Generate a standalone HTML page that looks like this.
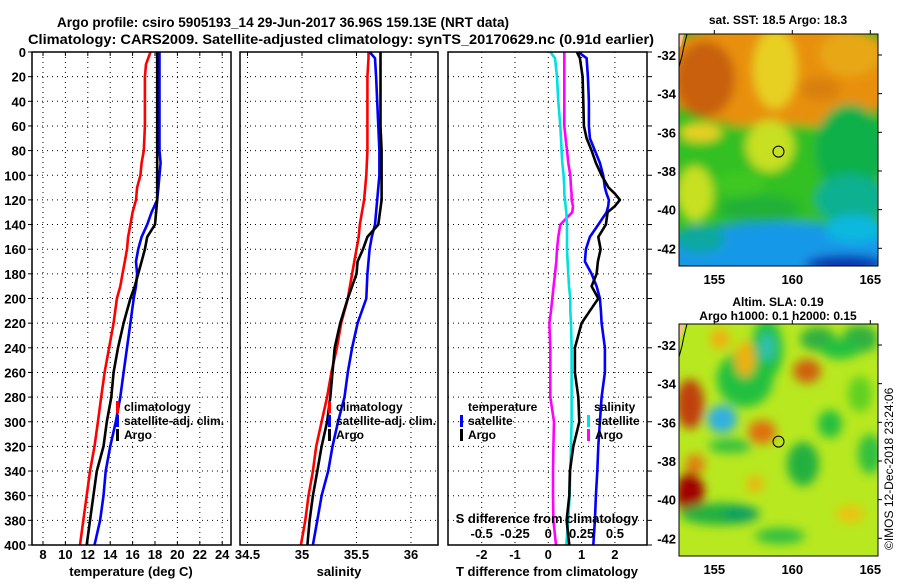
<!DOCTYPE html>
<html><head><meta charset="utf-8"><style>
html,body{margin:0;padding:0;background:#fff;}
svg text{font-family:"Liberation Sans",Arial,sans-serif;font-weight:bold;fill:#000;}
</style></head><body>
<svg id="fig" width="900" height="580" viewBox="0 0 900 580" xmlns="http://www.w3.org/2000/svg">
<defs>
<filter id="blur1" x="-20%" y="-20%" width="140%" height="140%"><feGaussianBlur stdDeviation="5"/></filter>
<clipPath id="clipM1"><rect x="679" y="34" width="199" height="232"/></clipPath>
<clipPath id="clipM2"><rect x="679" y="324" width="199" height="232"/></clipPath>
</defs>
<text x="57" y="27" font-size="14" textLength="452" lengthAdjust="spacingAndGlyphs">Argo profile: csiro 5905193_14 29-Jun-2017 36.96S 159.13E (NRT data)</text>
<text x="28" y="44" font-size="14" textLength="626" lengthAdjust="spacingAndGlyphs">Climatology: CARS2009. Satellite-adjusted climatology: synTS_20170629.nc (0.91d earlier)</text>
<g id="plots"></g>
<g id="maps"></g>
</svg>
<script>
// ---- data ----
const tDepth=[0,10,20,40,60,80,90,100,110,120,130,140,150,160,170,180,190,200,220,240,260,280,300,320,340,360,380,400];
const tClim=[17.6,17.2,17.1,17.1,17.1,17.0,16.8,16.7,16.4,16.3,16.0,15.8,15.6,15.5,15.3,15.1,14.9,14.6,14.3,13.9,13.5,13.2,12.9,12.6,12.2,11.9,11.6,11.3];
const tSat=[18.4,18.4,18.4,18.4,18.4,18.4,18.5,18.4,18.3,18.2,17.7,17.3,16.8,16.5,16.3,16.4,16.3,16.1,15.8,15.5,15.2,14.9,14.5,14.0,13.6,13.4,13.1,12.6];
const tArgo=[18.2,18.2,18.2,18.2,18.2,18.2,18.2,18.2,18.2,18.2,18.1,18.0,17.3,17.1,16.8,16.5,16.2,15.8,15.2,14.7,14.3,14.1,13.7,13.4,12.8,12.5,12.2,11.9];
const sDepth=[0,5,20,40,60,80,100,120,140,150,160,170,180,200,220,240,260,280,300,320,340,360,380,400];
const sClim=[35.61,35.61,35.60,35.60,35.60,35.60,35.59,35.57,35.53,35.52,35.50,35.48,35.46,35.42,35.36,35.32,35.27,35.23,35.18,35.13,35.10,35.06,35.03,34.99];
const sSat=[35.62,35.67,35.68,35.69,35.70,35.71,35.71,35.69,35.67,35.64,35.62,35.61,35.60,35.59,35.51,35.46,35.42,35.39,35.33,35.28,35.24,35.18,35.14,35.10];
const sArgo=[35.72,35.72,35.72,35.72,35.72,35.73,35.73,35.73,35.70,35.60,35.56,35.51,35.50,35.42,35.35,35.30,35.28,35.26,35.23,35.18,35.14,35.10,35.07,35.05];
const dDepth=[0,5,20,40,60,70,80,90,100,110,115,120,125,130,140,150,160,170,180,190,200,210,220,240,260,280,300,320,340,360,380,400];
const dTSat=[0.90,1.15,1.19,1.22,1.22,1.25,1.40,1.55,1.65,1.70,1.75,1.82,1.80,1.75,1.50,1.25,1.13,1.10,1.30,1.45,1.55,1.58,1.60,1.70,1.70,1.60,1.55,1.50,1.47,1.43,1.40,1.35];
const dTArgo=[0.86,0.95,1.03,1.05,1.07,1.15,1.30,1.43,1.60,1.81,2.00,2.15,2.00,1.78,1.73,1.50,1.57,1.49,1.45,1.30,1.50,1.25,1.00,0.80,0.80,0.90,0.93,0.75,0.65,0.63,0.55,0.63];
const dSSat=[0.015,0.05,0.065,0.075,0.09,0.095,0.10,0.105,0.115,0.12,0.12,0.125,0.13,0.135,0.14,0.14,0.14,0.145,0.15,0.155,0.165,0.165,0.17,0.175,0.175,0.175,0.175,0.17,0.165,0.16,0.15,0.135];
const dSArgo=[0.12,0.12,0.12,0.12,0.12,0.13,0.14,0.15,0.165,0.17,0.175,0.175,0.185,0.18,0.09,0.075,0.065,0.06,0.05,0.04,0.03,0.02,0.008,0.015,0.015,0.015,0.043,0.038,0.035,0.035,0.038,0.058];
const depthTicks=[0,20,40,60,80,100,120,140,160,180,200,220,240,260,280,300,320,340,360,380,400];
const tTicks=[8,10,12,14,16,18,20,22,24];
const sTicks=[34.5,35,35.5,36];
const sTickLabels=["34.5","35","35.5","36"];
const dTTicks=[-2,-1,0,1,2];
const dSTicks=[-0.5,-0.25,0,0.25,0.5];
const lonTicks=[155,160,165];
const latTicks=[-32,-34,-36,-38,-40,-42];

const NS="http://www.w3.org/2000/svg";
const plots=document.getElementById('plots');
function el(tag,attrs,parent){const e=document.createElementNS(NS,tag);for(const k in attrs)e.setAttribute(k,attrs[k]);(parent||plots).appendChild(e);return e;}
const TOP=52,BOT=545;
const yD=d=>TOP+d*(BOT-TOP)/400;
const xT=v=>43+(v-8)*11.2;
const xS=v=>302+(v-35)*109;
const xDT=v=>548.3+v*33.3;
const xDS=v=>548.3+v*133.3;
const panels=[{x0:32,x1:231,name:'temperature-panel'},{x0:240,x1:438,name:'salinity-panel'},{x0:448,x1:647,name:'difference-panel'}];

function vgrid(x,name){const l=el('line',{x1:x,x2:x,y1:TOP,y2:BOT,stroke:'#000','stroke-width':1,'stroke-dasharray':'1,4'});

}
panels.forEach((p,i)=>{
  depthTicks.forEach(d=>{if(d>0&&d<400){const l=el('line',{x1:p.x0,x2:p.x1,y1:yD(d),y2:yD(d),stroke:'#000','stroke-width':1,'stroke-dasharray':'1,4'});
  
  }});
});
tTicks.forEach(t=>vgrid(xT(t),'temperature-gridline'));
sTicks.forEach(t=>vgrid(xS(t),'salinity-gridline'));
dTTicks.forEach(t=>vgrid(xDT(t),'t-diff-gridline'));

function line(xs,ds,xf,color,name){
  const pts=xs.map((v,i)=>xf(v).toFixed(1)+','+yD(ds[i]).toFixed(1)).join(' ');
  const l=el('polyline',{points:pts,fill:'none',stroke:color,'stroke-width':2.6,'stroke-linejoin':'round'});
  
  
}
line(tClim,tDepth,xT,'#ff0000','temperature-climatology-line');
line(tSat,tDepth,xT,'#0000ff','temperature-satellite-line');
line(tArgo,tDepth,xT,'#000000','temperature-argo-line');
line(sClim,sDepth,xS,'#ff0000','salinity-climatology-line');
line(sSat,sDepth,xS,'#0000ff','salinity-satellite-line');
line(sArgo,sDepth,xS,'#000000','salinity-argo-line');
line(dSArgo,dDepth,xDS,'#ff00ff','s-diff-argo-line');
line(dSSat,dDepth,xDS,'#00e0e0','s-diff-satellite-line');
line(dTSat,dDepth,xDT,'#0000ff','t-diff-satellite-line');
line(dTArgo,dDepth,xDT,'#000000','t-diff-argo-line');

panels.forEach(p=>{const r=el('rect',{x:p.x0,y:TOP,width:p.x1-p.x0,height:BOT-TOP,fill:'none',stroke:'#000','stroke-width':1.5});

});
depthTicks.forEach(d=>{const t=el('text',{x:26,y:yD(d)+5,'font-size':13,'text-anchor':'end'});t.textContent=d;


el('line',{x1:28,x2:32,y1:yD(d),y2:yD(d),stroke:'#000'});
el('line',{x1:647,x2:652,y1:yD(d),y2:yD(d),stroke:'#000'});});
function xlab(x,y,txt,name,size){const t=el('text',{x:x,y:y,'font-size':size||13,'text-anchor':'middle'});t.textContent=txt;

return t;}
tTicks.forEach(v=>{xlab(xT(v),559,v,'temperature-tick-label');el('line',{x1:xT(v),x2:xT(v),y1:TOP,y2:TOP+4,stroke:'#000'});el('line',{x1:xT(v),x2:xT(v),y1:BOT,y2:BOT-4,stroke:'#000'});});
sTicks.forEach((v,i)=>{xlab(xS(v),559,sTickLabels[i],'salinity-tick-label');el('line',{x1:xS(v),x2:xS(v),y1:TOP,y2:TOP+4,stroke:'#000'});});
dTTicks.forEach(v=>xlab(xDT(v),559,v,'t-diff-tick-label'));
dSTicks.forEach(v=>xlab(xDS(v),538,v,'s-diff-tick-label'));
xlab(131,576,'temperature (deg C)','temperature-axis-title');
xlab(339,576,'salinity','salinity-axis-title');
xlab(547,576,'T difference from climatology','t-diff-axis-title');
xlab(547,523,'S difference from climatology','s-diff-axis-title');

function legend(x,y,color,txt,name){const r=el('rect',{x:x,y:y-10,width:3,height:12,fill:color});


if(txt){const t=el('text',{x:x+8,y:y,'font-size':12});t.textContent=txt;

}}
legend(116,411,'#ff0000','climatology','legend-climatology');
legend(116,425,'#0000ff','satellite-adj. clim.','legend-satellite-adj');
legend(116,439,'#000000','Argo','legend-argo');
legend(328,411,'#ff0000','climatology','legend-climatology-salinity');
legend(328,425,'#0000ff','satellite-adj. clim.','legend-satellite-adj-salinity');
legend(328,439,'#000000','Argo','legend-argo-salinity');
(function(){const t=el('text',{x:468,y:411,'font-size':12});t.textContent='temperature';


const s=el('text',{x:594,y:411,'font-size':12});s.textContent='salinity';

})();
legend(460,425,'#0000ff','satellite','legend-t-satellite');
legend(460,439,'#000000','Argo','legend-t-argo');
legend(587,425,'#00e0e0','satellite','legend-s-satellite');
legend(587,439,'#ff00ff','Argo','legend-s-argo');

// ---- maps ----
const maps=document.getElementById('maps');
const MX0=679,MX1=878;
const xLon=l=>714.3+(l-155)*15.6;
const yLat=(l,top)=>top+21+(-32-l)*19.33;
function blob(g,cx,cy,rx,ry,c){return el('ellipse',{cx:cx,cy:cy,rx:rx,ry:ry,fill:c},g);}
function map(top,name,title1,title2,blobs,bg){
  const g=el('g',{'clip-path':'url(#'+(top<100?'clipM1':'clipM2')+')'},maps);
  
  
  el('rect',{x:MX0,y:top,width:199,height:232,fill:bg},g);
  const bg2=el('g',{filter:'url(#blur1)'},g);
  blobs.forEach(b=>blob(bg2,b[0],top+b[1],b[2],b[3],b[4]));
  el('polyline',{points:`${MX0+8},${top} ${MX0+5},${top+12} ${MX0+3},${top+22} ${MX0},${top+33}`,fill:'none',stroke:'#000','stroke-width':1},g);
  el('polygon',{points:`${MX0},${top} ${MX0+5},${top} ${MX0+2},${top+12} ${MX0},${top+14}`,fill:'#f8c090'},g);
  const c=el('circle',{cx:778.5,cy:yLat(-37,top),r:5.5,fill:'none',stroke:'#000','stroke-width':1},maps);
  
  
  const f=el('rect',{x:MX0,y:top,width:199,height:232,fill:'none',stroke:'#000','stroke-width':1},maps);
  
  
  lonTicks.forEach(l=>{const t=el('text',{x:xLon(l),y:top+250,'font-size':13,'text-anchor':'middle'},maps);t.textContent=l;
  
  
  el('line',{x1:xLon(l),x2:xLon(l),y1:top,y2:top-4,stroke:'#000'},maps);});
  latTicks.forEach(l=>{const t=el('text',{x:MX0-3,y:yLat(l,top)+5,'font-size':13,'text-anchor':'end'},maps);t.textContent=l;
  
  
  el('line',{x1:MX1,x2:MX1+4,y1:yLat(l,top),y2:yLat(l,top),stroke:'#000'},maps);});
  title1&&(function(){const t=el('text',{x:778,y:title1[1],'font-size':12,'text-anchor':'middle'},maps);t.textContent=title1[0];
  
  })();
  title2&&(function(){const t=el('text',{x:778,y:title2[1],'font-size':12,'text-anchor':'middle'},maps);t.textContent=title2[0];
  
  })();
}
map(34,'sst-map',['sat. SST: 18.5  Argo: 18.3',24],null,[
 [780,40,130,55,'#e89010'],[780,140,130,50,'#30c020'],[780,218,130,30,'#1898e8'],
 [705,45,30,38,'#c86010'],[775,35,22,40,'#e8d020'],[850,20,30,22,'#e8a818'],[820,55,20,12,'#d88010'],
 [850,115,35,45,'#10b048'],[850,165,35,25,'#10b090'],
 [770,112,24,26,'#c8e020'],[695,160,18,28,'#c8e020'],[700,98,22,10,'#e8d020'],
 [740,150,25,12,'#40c820'],[760,175,40,14,'#20b038'],
 [855,195,30,14,'#10b8e0'],[845,230,40,9,'#1030b0'],[700,205,25,14,'#10a8a0']
],'#30c020');
map(324,'sla-map',['Altim. SLA: 0.19',306],['Argo h1000: 0.1  h2000: 0.15',320],[
 [690,80,14,25,'#c04010'],[745,55,28,28,'#20c040'],[722,95,15,14,'#30b0e0'],[767,25,16,30,'#20c040'],[767,23,8,14,'#30c0b0'],
 [745,35,10,18,'#f0b010'],[720,15,10,10,'#f0b010'],
 [807,47,14,12,'#d06010'],[818,15,18,12,'#30b040'],[860,15,18,14,'#30b040'],[840,25,20,10,'#20c040'],
 [762,108,14,12,'#e07010'],[690,170,14,22,'#a00000'],[695,140,10,10,'#e08010'],[803,140,16,22,'#20b040'],
 [720,190,40,11,'#20b040'],[740,190,18,8,'#10a060'],[860,70,12,18,'#60d020'],[830,100,12,14,'#20c040'],
 [870,130,12,20,'#30c040'],[780,212,25,8,'#30c040'],[730,122,22,7,'#30c040'],
 [755,160,8,8,'#f0b010'],[850,190,14,8,'#f0c010']
],'#b8e820');
(function(){const t=el('text',{x:0,y:0,'font-size':12,transform:'translate(893,550) rotate(-90)'},maps);t.textContent='©IMOS 12-Dec-2018 23:24:06';t.style.fontWeight='normal';

})();
</script>
</body></html>
